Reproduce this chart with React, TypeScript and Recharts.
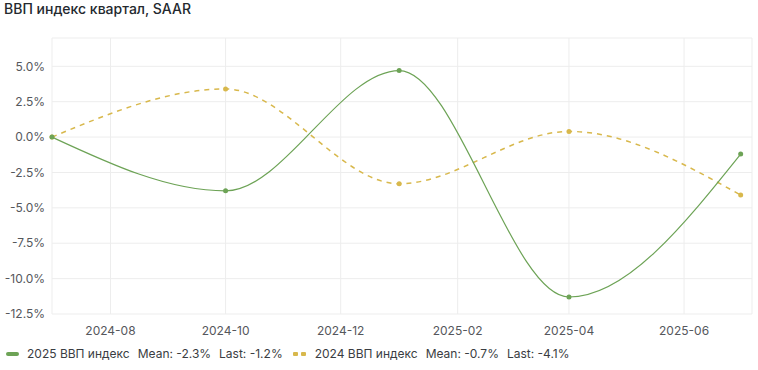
import { LineChart, Line, XAxis, YAxis, CartesianGrid } from 'recharts';

const quarters = ['2024-07-01', '2024-10-01', '2025-01-01', '2025-04-01', '2025-07-01'];
const gdp2025 = [0, -3.8, 4.7, -11.3, -1.2];
const gdp2024 = [0, 3.4, -3.3, 0.4, -4.1];
const yTicks = [5, 2.5, 0, -2.5, -5, -7.5, -10, -12.5];
const xTickMonths = ['2024-08-01', '2024-10-01', '2024-12-01', '2025-02-01', '2025-04-01', '2025-06-01'];

const GREEN = '#6da356';
const YELLOW = '#d8b84c';
const FONT = 'Inter, "Noto Sans", sans-serif';

const toTs = (s: string) => {
  const [y, m, d] = s.split('-').map(Number);
  return Date.UTC(y, m - 1, d);
};

const data = quarters.map((q, i) => ({ t: toTs(q), a: gdp2025[i], b: gdp2024[i] }));
const xTicks = xTickMonths.map(toTs);
const xDomain = [toTs('2024-07-01'), toTs('2025-07-07')];

const fmtMonth = (v: number) => {
  const d = new Date(v);
  return `${d.getUTCFullYear()}-${String(d.getUTCMonth() + 1).padStart(2, '0')}`;
};
const fmtPct = (v: number) => `${v.toFixed(1)}%`;
const mean = (arr: number[]) => arr.reduce((s, v) => s + v, 0) / arr.length;

const tickStyle = { fill: '#55575c', fontSize: 12, fontFamily: FONT };

function LegendItem({ label, values, color, dashed }: { label: string; values: number[]; color: string; dashed?: boolean }) {
  return (
    <div style={{ display: 'flex', alignItems: 'center', gap: 8 }}>
      {dashed ? (
        <span style={{ display: 'flex', gap: 3, width: 14 }}>
          <span style={{ width: 5, height: 4, background: color, borderRadius: 1 }} />
          <span style={{ width: 5, height: 4, background: color, borderRadius: 1 }} />
        </span>
      ) : (
        <span style={{ width: 13, height: 4, background: color, borderRadius: 2 }} />
      )}
      <span>{label}</span>
      <span>Mean: {fmtPct(mean(values))}</span>
      <span>Last: {fmtPct(values[values.length - 1])}</span>
    </div>
  );
}

export default function App() {
  return (
    <div style={{ position: 'absolute', left: 0, top: 0, width: 758, height: 370, background: '#fff', fontFamily: FONT }}>
      <div style={{ position: 'absolute', left: 4, top: 0, fontSize: 14, fontWeight: 500, color: '#24292e', lineHeight: '17px' }}>
        ВВП индекс квартал, SAAR
      </div>
      <LineChart width={758} height={340} data={data} margin={{ top: 38, right: 6, bottom: 0, left: 0 }}>
        <CartesianGrid stroke="#ededed" strokeWidth={1} />
        <XAxis
          dataKey="t" type="number" scale="time" domain={xDomain} ticks={xTicks}
          tickFormatter={fmtMonth} tick={tickStyle}
          axisLine={false} tickLine={false} tickSize={0} tickMargin={12} height={26}
        />
        <YAxis
          type="number" domain={[-12.5, 7]} ticks={yTicks} width={52}
          tickFormatter={fmtPct} tick={tickStyle}
          axisLine={false} tickLine={false} tickSize={0} tickMargin={7}
        />
        <Line
          type="monotone" dataKey="b" stroke={YELLOW} strokeWidth={1.5} strokeDasharray="5 5"
          dot={{ r: 2.5, fill: YELLOW, stroke: 'none' }} activeDot={false} isAnimationActive={false}
        />
        <Line
          type="monotone" dataKey="a" stroke={GREEN} strokeWidth={1.2}
          dot={{ r: 2.5, fill: GREEN, stroke: 'none' }} activeDot={false} isAnimationActive={false}
        />
      </LineChart>
      <div style={{ position: 'absolute', left: 6, top: 346, display: 'flex', gap: 10, fontSize: 12, color: '#3a3d42', lineHeight: '16px' }}>
        <LegendItem label="2025 ВВП индекс" values={gdp2025} color={GREEN} />
        <LegendItem label="2024 ВВП индекс" values={gdp2024} color={YELLOW} dashed />
      </div>
    </div>
  );
}
